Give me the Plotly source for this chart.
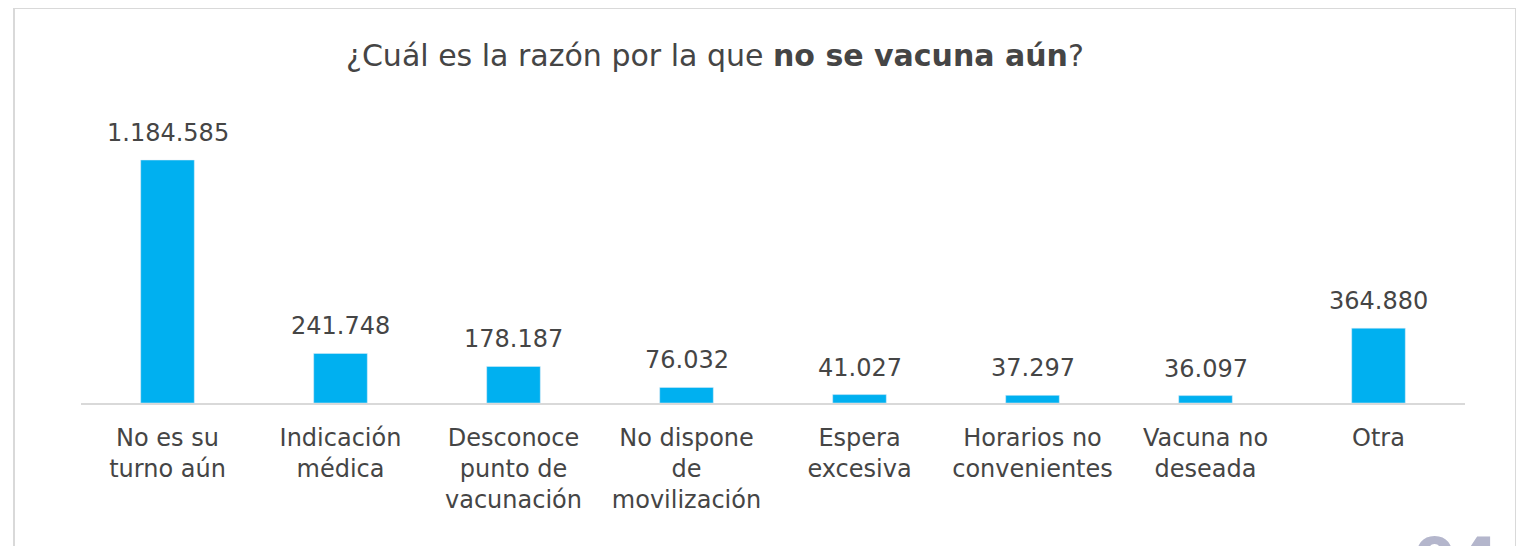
import plotly.graph_objects as go

categories = ["No es su<br>turno aún", "Indicación<br>médica", "Desconoce<br>punto de<br>vacunación",
              "No dispone<br>de<br>movilización", "Espera<br>excesiva", "Horarios no<br>convenientes",
              "Vacuna no<br>deseada", "Otra"]
values = [1184585, 241748, 178187, 76032, 41027, 37297, 36097, 364880]

def fmt(v):
    return f"{v:,}".replace(",", ".")

labels = [fmt(v) for v in values]

FONT = "DejaVu Sans"
TXT = "#454545"

# page body has an 8px margin; figure coordinates below are page pixels minus 8
OFF = 8
L, R, T, B = 81 - OFF, 59, 100 - OFF, 143
PW = 1524 - OFF - L - R
PH = 546 - OFF - T - B
AX = 403  # page y of the axis line

def px_x(xp):
    return (xp - 81) / PW

def px_y(yp):
    return (AX - yp) / PH

fig = go.Figure(go.Bar(
    x=list(range(len(categories))), y=values, marker_color="#00B0F0",
    width=0.31, hoverinfo="skip"))

annotations = [dict(x=i, y=v, xref="x", yref="y", text=t, showarrow=False,
                    yanchor="bottom", yshift=11,
                    font=dict(family=FONT, size=24, color=TXT))
               for i, (v, t) in enumerate(zip(values, labels))]

annotations.append(dict(
    text="¿Cuál es la razón por la que <b>no se vacuna aún</b>?",
    xref="paper", yref="paper", x=px_x(715), y=px_y(55),
    xanchor="center", yanchor="middle", showarrow=False,
    font=dict(family=FONT, size=30, color=TXT)))

annotations.append(dict(
    text="<b>04</b>", xref="paper", yref="paper", x=px_x(1456), y=px_y(522),
    xanchor="center", yanchor="top", showarrow=False,
    font=dict(family=FONT, size=62, color="#B4B6CC")))

fig.update_layout(
    width=1524 - OFF, height=546 - OFF,
    margin=dict(l=L, r=R, t=T, b=B),
    paper_bgcolor="white", plot_bgcolor="white",
    showlegend=False,
    annotations=annotations,
    shapes=[dict(type="rect", xref="paper", yref="paper",
                 x0=px_x(14), x1=px_x(1516),
                 y0=px_y(600), y1=px_y(8),
                 line=dict(color="#D9D9D9", width=2), layer="below")],
    xaxis=dict(tickmode="array", tickvals=list(range(len(categories))), ticktext=categories,
               range=[-0.5, len(categories) - 0.5], showgrid=False, zeroline=False,
               showline=True, linecolor="#D9D9D9", linewidth=2, ticks="",
               ticklabelstandoff=12,
               tickfont=dict(family=FONT, size=24, color=TXT)),
    yaxis=dict(range=[0, 1184585 * PH / 243], visible=False, showgrid=False, zeroline=False),
)

fig.write_html("out.html")
